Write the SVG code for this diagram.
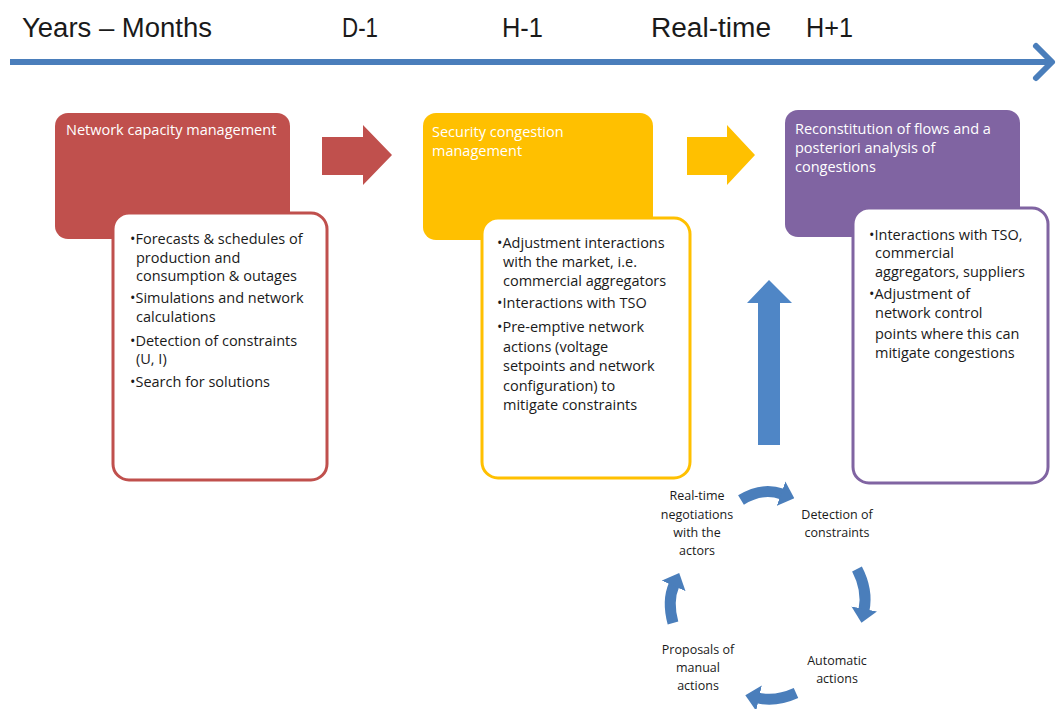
<svg xmlns="http://www.w3.org/2000/svg" width="1058" height="709" viewBox="0 0 1058 709">
<style>
.hdr{font-family:"Liberation Sans",Arial,sans-serif;font-size:27px;fill:#1a1a1a}
.ttl{font-family:"Open Sans","Liberation Sans",sans-serif;font-size:14.5px;fill:#ffffff}
.bul{font-family:"Open Sans","Liberation Sans",sans-serif;font-size:14.5px;fill:#1a1a1a}
.cyc{font-family:"Open Sans","Liberation Sans",sans-serif;font-size:12.5px;fill:#1a1a1a;text-anchor:middle}
.cyc-arc{fill:none;stroke:#4a7ebb;stroke-width:11}
</style>
<defs>
<marker id="cyhead" markerUnits="userSpaceOnUse" markerWidth="14" markerHeight="26" viewBox="0 0 14 26" refX="1" refY="13" orient="auto">
<path d="M0,0 L14,13 L0,26 z" fill="#4a7ebb"/>
</marker>
</defs>
<rect width="1058" height="709" fill="#ffffff"/>

<g id="timeline">
<line x1="10" y1="62" x2="1050" y2="62" stroke="#4a7ebb" stroke-width="6"/>
<polyline points="1036,46 1052,62 1036,78" fill="none" stroke="#4a7ebb" stroke-width="6" stroke-linecap="round" stroke-linejoin="round"/>
<text class="hdr" x="22" y="37" textLength="190" lengthAdjust="spacingAndGlyphs">Years – Months</text>
<text class="hdr" x="342" y="37" textLength="36" lengthAdjust="spacingAndGlyphs">D-1</text>
<text class="hdr" x="502" y="37" textLength="41" lengthAdjust="spacingAndGlyphs">H-1</text>
<text class="hdr" x="651" y="37" textLength="120" lengthAdjust="spacingAndGlyphs">Real-time</text>
<text class="hdr" x="806" y="37" textLength="47" lengthAdjust="spacingAndGlyphs">H+1</text>
</g>

<g id="network-capacity">
<rect x="55" y="113" width="235" height="126" rx="13" fill="#c0504d"/>
<text class="ttl" x="66" y="135">Network capacity management</text>
<rect x="113" y="213" width="214" height="267" rx="16" fill="#ffffff" stroke="#c0504d" stroke-width="3"/>
<text class="bul" x="130">
<tspan x="130" y="244">•Forecasts &amp; schedules of</tspan>
<tspan x="136" y="263">production and</tspan>
<tspan x="136" y="281">consumption &amp; outages</tspan>
<tspan x="130" y="303">•Simulations and network</tspan>
<tspan x="136" y="322">calculations</tspan>
<tspan x="130" y="346">•Detection of constraints</tspan>
<tspan x="136" y="364">(U, I)</tspan>
<tspan x="130" y="387">•Search for solutions</tspan>
</text>
</g>

<g id="security-congestion">
<rect x="423" y="113" width="230" height="127" rx="13" fill="#ffc000"/>
<text class="ttl"><tspan x="432" y="137">Security congestion</tspan><tspan x="432" y="156">management</tspan></text>
<rect x="482" y="218" width="208" height="260" rx="16" fill="#ffffff" stroke="#ffc000" stroke-width="3"/>
<text class="bul">
<tspan x="497" y="248">•Adjustment interactions</tspan>
<tspan x="503" y="267">with the market, i.e.</tspan>
<tspan x="503" y="286">commercial aggregators</tspan>
<tspan x="497" y="308">•Interactions  with TSO</tspan>
<tspan x="497" y="332">•Pre-emptive network</tspan>
<tspan x="503" y="352">actions (voltage</tspan>
<tspan x="503" y="371">setpoints and network</tspan>
<tspan x="503" y="391">configuration) to</tspan>
<tspan x="503" y="410">mitigate constraints</tspan>
</text>
</g>

<g id="reconstitution">
<rect x="785" y="110" width="235" height="127" rx="13" fill="#8064a2"/>
<text class="ttl"><tspan x="795" y="134">Reconstitution of flows and a</tspan><tspan x="795" y="153">posteriori analysis of</tspan><tspan x="795" y="172">congestions</tspan></text>
<rect x="853" y="208" width="195" height="275" rx="16" fill="#ffffff" stroke="#8064a2" stroke-width="3"/>
<text class="bul">
<tspan x="869" y="240">•Interactions with TSO,</tspan>
<tspan x="875" y="258">commercial</tspan>
<tspan x="875" y="277">aggregators, suppliers</tspan>
<tspan x="869" y="299">•Adjustment of</tspan>
<tspan x="875" y="318">network control</tspan>
<tspan x="875" y="339">points where this can</tspan>
<tspan x="875" y="358">mitigate congestions</tspan>
</text>
</g>

<g id="cycle-negotiations"><text class="cyc"><tspan x="697" y="500">Real-time</tspan><tspan x="697" y="519">negotiations</tspan><tspan x="697" y="537">with the</tspan><tspan x="697" y="555">actors</tspan></text></g>
<g id="cycle-detection"><text class="cyc"><tspan x="837" y="519">Detection of</tspan><tspan x="837" y="537">constraints</tspan></text></g>
<g id="cycle-automatic"><text class="cyc"><tspan x="837" y="665">Automatic</tspan><tspan x="837" y="683">actions</tspan></text></g>
<g id="cycle-proposals"><text class="cyc"><tspan x="698" y="654">Proposals of</tspan><tspan x="698" y="672">manual</tspan><tspan x="698" y="690">actions</tspan></text></g>

<g id="connectors">
<path d="M322,137 H363 V125 L392,155 L363,185 V175 H322 z" fill="#c0504d"/>
<path d="M687,137 H727 V125 L755,155 L727,185 V175 H687 z" fill="#ffc000"/>
<path d="M758,445 V303 H747 L769,280 L792,303 H780 V445 z" fill="#4f86c6"/>
<path class="cyc-arc" d="M741,500 Q762,487 782,494" marker-end="url(#cyhead)"/>
<path class="cyc-arc" d="M857,569 Q868,590 864,610" marker-end="url(#cyhead)"/>
<path class="cyc-arc" d="M796,693 Q776,702 758,698" marker-end="url(#cyhead)"/>
<path class="cyc-arc" d="M673,623 Q667,601 674,585" marker-end="url(#cyhead)"/>
</g>
</svg>
